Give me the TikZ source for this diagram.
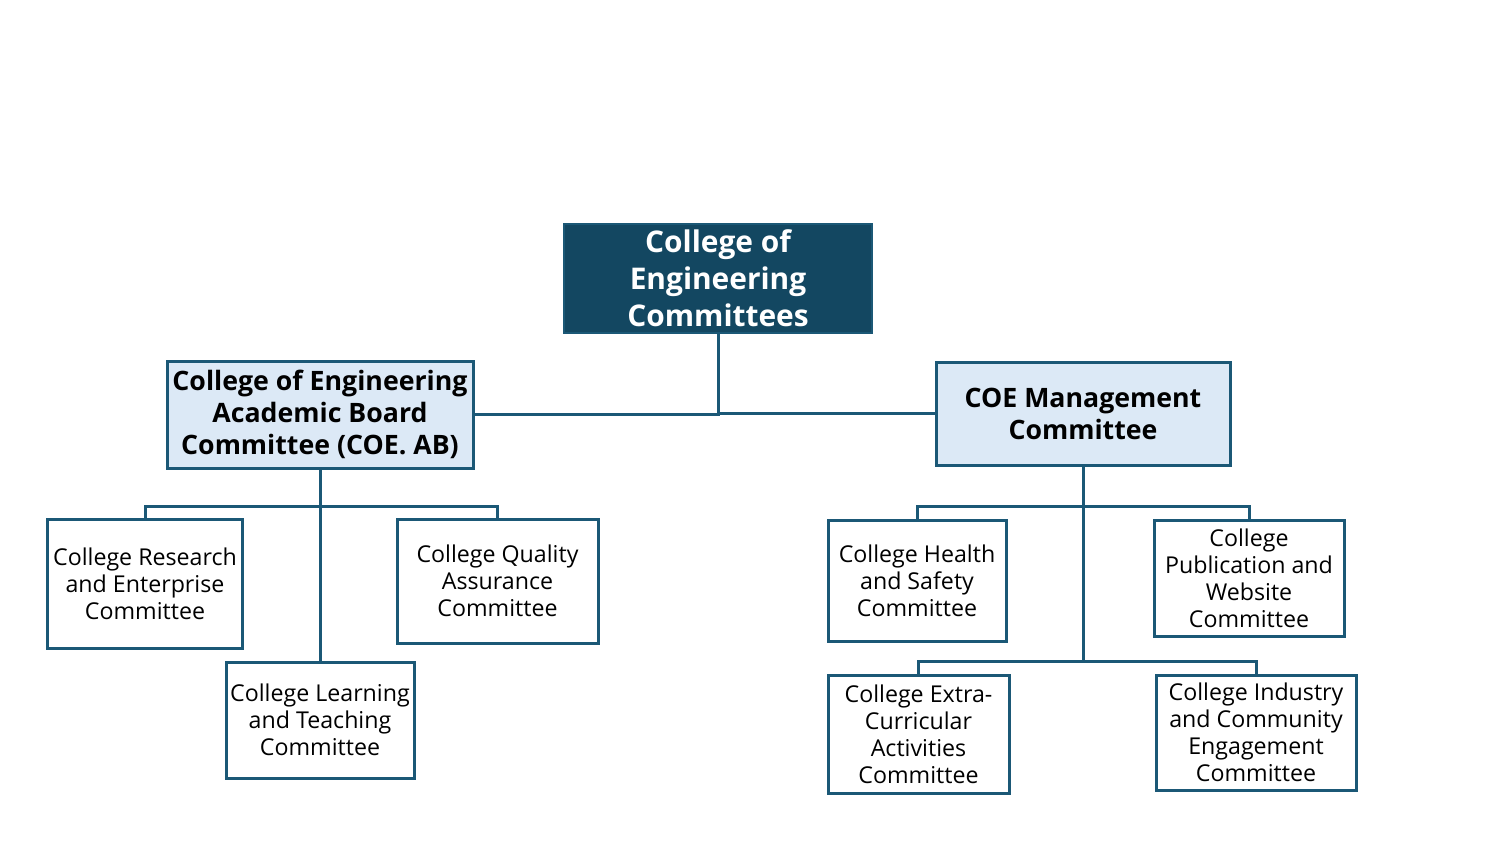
\documentclass[tikz,border=0pt]{standalone}
\usepackage{fontspec}
\setmainfont{Open Sans}
\definecolor{coedark}{RGB}{19,71,97}
\definecolor{coeline}{RGB}{27,88,118}
\definecolor{coelight}{RGB}{220,233,246}
\tikzset{
    topbox/.style={draw=coeline, line width=0.5mm, fill=coedark, text=white, align=center, inner sep=0pt,
        font=\bfseries\fontsize{17}{21}\selectfont},
    headbox/.style={draw=coeline, line width=0.6mm, fill=coelight, align=center, inner sep=0pt,
        font=\bfseries\fontsize{15.2}{18.2}\selectfont},
    subbox/.style={draw=coeline, line width=0.6mm, fill=white, align=center, inner sep=0pt,
        font=\fontsize{13.2}{15.4}\selectfont},
    link/.style={draw=coeline, line width=0.6mm}
}
\begin{document}
\begin{tikzpicture}[x=0.2mm, y=-0.2mm]
                \useasboundingbox (0,0) rectangle (1499,848);
                % top of the tree
                \node[topbox, minimum width=61.6mm, minimum height=21.8mm] (coe) at (718,278.5) {College of\\Engineering\\Committees};
                \node[headbox, minimum width=61.2mm, minimum height=21.4mm] (ab) at (320,414.5) {College of Engineering\\Academic Board\\Committee (COE. AB)};
                \node[headbox, minimum width=58.8mm, minimum height=20.6mm] (mgmt) at (1083,413.5) {COE Management\\Committee};

                % academic board branch
                \node[subbox, minimum width=38.8mm, minimum height=25.8mm] (research) at (145,583.5) {College Research\\and Enterprise\\Committee};
                \node[subbox, minimum width=40.2mm, minimum height=24.8mm] (quality) at (497.5,581) {College Quality\\Assurance\\Committee};
                \node[subbox, minimum width=37.6mm, minimum height=23.2mm] (learning) at (320,720) {College Learning\\and Teaching\\Committee};

                % management branch
                \node[subbox, minimum width=35.6mm, minimum height=24.2mm] (health) at (917,580.5) {College Health\\and Safety\\Committee};
                \node[subbox, minimum width=38mm, minimum height=23.2mm] (publication) at (1249,578) {College\\Publication and\\Website\\Committee};
                \node[subbox, minimum width=36.2mm, minimum height=23.6mm] (extra) at (918.5,734) {College Extra-\\Curricular\\Activities\\Committee};
                \node[subbox, minimum width=40mm, minimum height=23mm] (industry) at (1256,732.5) {College Industry\\and Community\\Engagement\\Committee};

                \coordinate (abfork) at (320,506);
                \coordinate (mgmtfork) at (1083,506);
                \coordinate (mgmtlow) at (1083,661);

                \draw[link] (coe.south) |- (ab.east);
                \draw[link] (coe.south) |- (mgmt.west);

                \draw[link] (ab.south) -- (learning.north);
                \draw[link] (abfork) -| (research.north);
                \draw[link] (abfork) -| (quality.north);

                \draw[link] (mgmt.south) -- (mgmtlow);
                \draw[link] (mgmtfork) -| (health.north);
                \draw[link] (mgmtfork) -| (publication.north);
                \draw[link] (mgmtlow) -| (extra.north);
                \draw[link] (mgmtlow) -| (industry.north);
\end{tikzpicture}
\end{document}
